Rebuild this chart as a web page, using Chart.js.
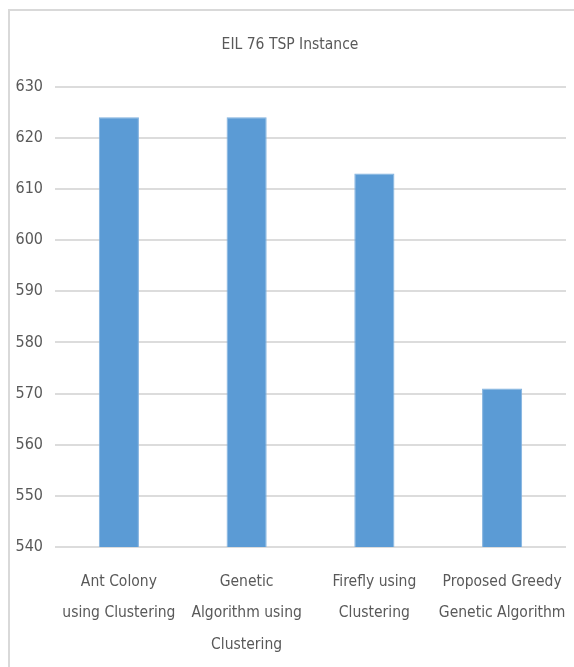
<!DOCTYPE html>
<html>
<head>
<meta charset="utf-8">
<title>EIL 76 TSP Instance</title>
<script src="https://cdn.jsdelivr.net/npm/chart.js@4.4.1/dist/chart.umd.min.js"></script>
<style>
    html, body { margin: 0; padding: 0; background: #ffffff; overflow: hidden; }
</style>
</head>
<body>
<canvas id="tourChart" width="574" height="667"></canvas>
<script>
// Tour lengths found by each method on eil76
const methods = [
    ["Ant Colony", "using Clustering"],
    ["Genetic", "Algorithm using", "Clustering"],
    ["Firefly using", "Clustering"],
    ["Proposed Greedy", "Genetic Algorithm"]
];
const tourLengths = [624, 624, 613, 571];
const yTicks = [540, 550, 560, 570, 580, 590, 600, 610, 620, 630];

const textColor = "#595959";
const fontFamily = "'Liberation Sans Narrow', 'DejaVu Sans Condensed', 'Liberation Sans', sans-serif";

// light outline along the top and left of the chart box
const chartFrame = {
    id: "chartFrame",
    beforeDraw: function (chart) {
        const c = chart.ctx;
        c.save();
        c.strokeStyle = "#d9d9d9";
        c.lineWidth = 2;
        c.beginPath();
        c.moveTo(chart.width, 10);
        c.lineTo(9, 10);
        c.lineTo(9, chart.height);
        c.stroke();
        c.restore();
    },
};

document.addEventListener("DOMContentLoaded", function () {
    const ctx = document.getElementById("tourChart").getContext("2d");
    new Chart(ctx, {
        type: "bar",
        data: {
            labels: methods,
            datasets: [
                {
                    label: "Tour length",
                    data: tourLengths,
                    backgroundColor: "#5b9bd5",
                    borderColor: "#7fb0de",
                    borderWidth: 1,
                    categoryPercentage: 1,
                    barPercentage: 0.314,
                },
            ],
        },
        options: {
            responsive: false,
            animation: false,
            devicePixelRatio: 1,
            layout: { padding: { left: 14, right: 8, top: 0, bottom: 0 } },
            plugins: {
                legend: { display: false },
                tooltip: { enabled: false },
                title: {
                    display: true,
                    text: "EIL 76 TSP Instance",
                    color: textColor,
                    font: { family: fontFamily, size: 15.5, weight: "normal" },
                    padding: { top: 36, bottom: 32 },
                },
            },
            scales: {
                x: {
                    grid: { display: false },
                    border: { display: false },
                    ticks: {
                        color: textColor,
                        font: { family: fontFamily, size: 15.5, lineHeight: 2.03 },
                        padding: 11,
                        maxRotation: 0,
                        autoSkip: false,
                    },
                    afterFit: function (scale) {
                        scale.height = 120;
                        scale.paddingLeft = 0;
                        scale.paddingRight = 0;
                    },
                },
                y: {
                    min: yTicks[0],
                    max: yTicks[yTicks.length - 1],
                    afterBuildTicks: function (scale) {
                        scale.ticks = yTicks.map(v => ({ value: v }));
                    },
                    grid: { color: "#dcdcdc", lineWidth: 2, drawTicks: false },
                    border: { display: false },
                    ticks: {
                        color: textColor,
                        font: { family: fontFamily, size: 16 },
                        padding: 12,
                    },
                    afterFit: function (scale) { scale.width = 41; },
                },
            },
        },
        plugins: [chartFrame],
    });
});
</script>
</body>
</html>
